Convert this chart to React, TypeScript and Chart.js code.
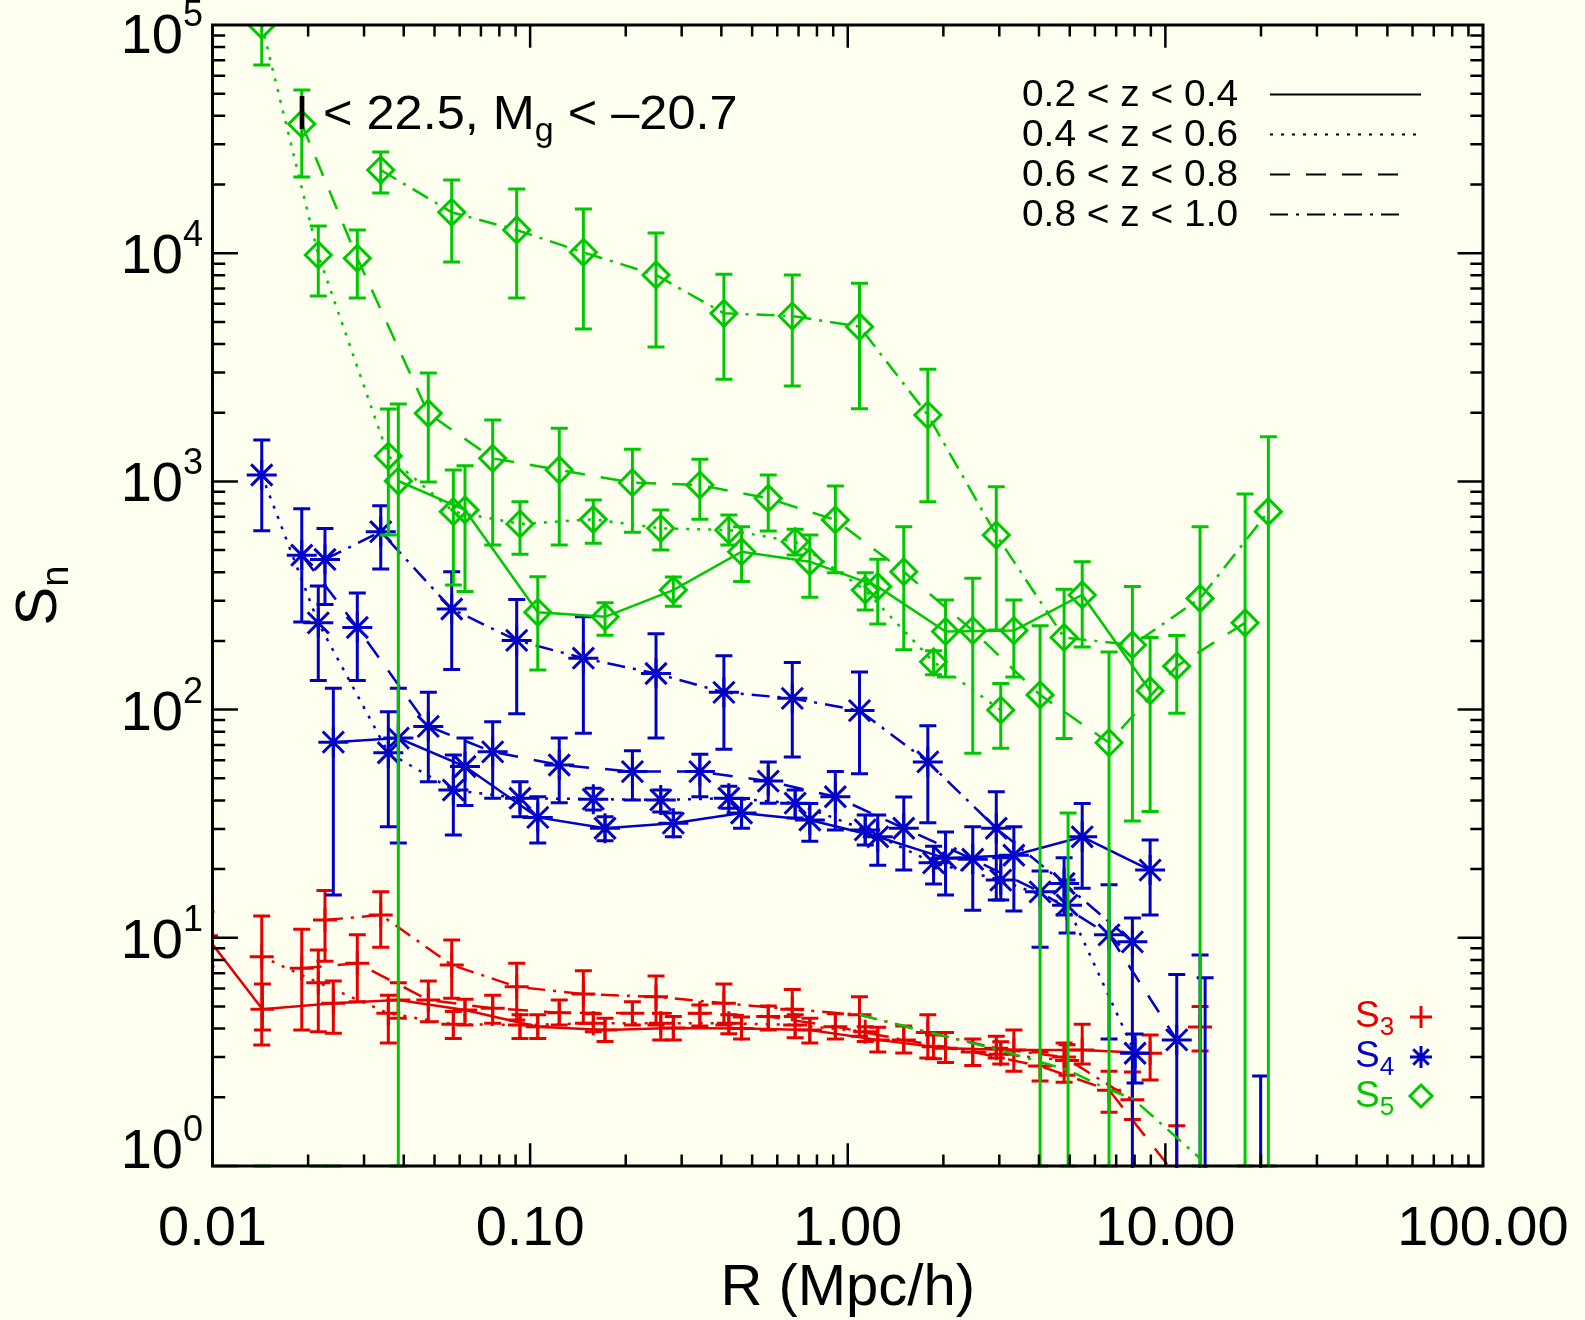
import React, { useEffect, useRef } from 'react';
import { Chart, registerables } from 'chart.js';

Chart.register(...registerables);

// ---------------- data ----------------
// R grids (Mpc/h) for the four redshift bins
const R_Z1 = [0.00954, 0.01436, 0.02401, 0.03846, 0.06237, 0.1057, 0.1721, 0.2824, 0.4631, 0.7596, 1.243, 2.032, 3.334, 5.472, 8.953];
const R_Z2 = [0.01429, 0.02153, 0.03577, 0.05731, 0.09292, 0.1581, 0.2578, 0.4223, 0.683, 1.135, 1.863, 3.032, 4.903, 8.028, 12.86];
const R_Z3 = [0.0191, 0.02857, 0.0478, 0.07623, 0.1235, 0.2099, 0.3423, 0.5619, 0.9141, 1.501, 2.475, 4.032, 6.647, 10.86, 17.82];
const R_Z4 = [0.0226, 0.03386, 0.05664, 0.09073, 0.1471, 0.2491, 0.4074, 0.6689, 1.089, 1.787, 2.935, 4.799, 7.873, 12.86, 21.1];

// S3
const S3_Z1 = [10.2, 4.86, 5.17, 5.34, 4.83, 4.08, 3.94, 4.02, 4.0, 3.94, 3.57, 3.28, 3.22, 3.22, 3.12];
const S3_Z1_HI = [13, 6.27, 6.47, 6.36, 5.38, 4.6, 4.44, 4.52, 4.5, 4.44, 4.06, 3.85, 3.94, 4.18, 3.75];
const S3_Z1_LO = [7.5, 3.94, 3.82, 4.44, 4.15, 3.62, 3.51, 3.57, 3.6, 3.46, 3.16, 2.84, 2.6, 2.8, 2.38];
const S3_Z2 = [8.27, 6.36, 4.67, 4.18, 4.15, 4.22, 4.22, 4.22, 4.15, 3.88, 3.33, 3.09, 2.9, null, 4.07];
const S3_Z2_HI = [12.46, 8.84, 5.6, 4.75, 4.6, 4.65, 4.67, 4.6, 4.6, 4.08, 3.75, 3.5, 3.4, null, 5.0];
const S3_Z2_LO = [3.39, 3.88, 3.46, 3.62, 3.62, 3.88, 3.57, 3.8, 3.65, 3.51, 2.95, 2.8, 2.5, null, 3.19];
const S3_Z3 = [7.35, 7.74, 5.34, 4.91, 4.7, 4.67, 4.67, 4.52, 4.08, 3.57, 3.16, 2.74, 2.15, 0.9, null];
const S3_Z3_HI = [10.9, 10.3, 6.47, 5.6, 5.34, 5.25, 5.08, 5.02, 4.65, 4.11, 3.6, 3.16, 2.6, 1.5, null];
const S3_Z3_LO = [3.94, 5.25, 4.29, 4.22, 4.15, 4.15, 4.11, 3.94, 3.6, 3.13, 2.76, 2.36, 1.72, 0.3, null];
const S3_Z4 = [11.97, 12.59, 7.6, 6.1, 5.67, 5.51, 5.17, 4.86, 4.6, 3.85, 3.28, 3.0, 1.95, null, null];
const S3_Z4_HI = [16.1, 15.9, 9.78, 7.74, 7.18, 6.81, 6.27, 5.94, 5.51, 4.6, 3.7, 3.46, 2.58, null, null];
const S3_Z4_LO = [7.9, 9.1, 5.43, 4.36, 4.22, 4.15, 4.15, 4.52, 3.7, 2.97, 2.97, 2.33, 1.6, null, null];

// S4
const S4_Z1 = [null, null, 72, 75, 56.3, 33.7, 30.2, 31.8, 35.2, 32.8, 27.7, 22.3, 23.0, 27.7, 19.8];
const S4_Z1_HI = [null, null, 124, 124, 75, 41.5, 33.9, 35.2, 40.8, 38.8, 34.5, 29.1, 30.7, 38.8, 26.8];
const S4_Z1_LO = [null, null, 15.4, 26, 38, 26, 26.6, 27.7, 30.2, 26.5, 20.8, 15.4, 13.1, 16.5, 12.6];
const S4_Z2 = [1067, 240, 64.7, 44.4, 40.9, 40.5, 40.2, 40.9, 38.9, 29.7, 21.3, 17.9, 13.9, 3.12, null];
const S4_Z2_HI = [1519, 348, 97.9, 63.3, 48.3, 45.2, 44.4, 46.1, 44.4, 34.5, 25.2, 22.4, 17.9, 3.79, null];
const S4_Z2_LO = [608, 134, 30.7, 28.2, 33.9, 36.3, 35.6, 37.0, 33.5, 25.5, 17.2, 14.65, 10.5, 2.31, null];
const S4_Z3 = [475, 229, 84.4, 65.3, 57.2, 53.5, 53.5, 48.6, 41.5, 30.2, 22.1, 15.9, 10.3, 3.57, null];
const S4_Z3_HI = [758, 324, 119, 88.5, 75, 66, 63.8, 59, 53.5, 41.4, 30.7, 19.6, 17.1, 6.9, null];
const S4_Z3_LO = [242, 134, 48.3, 40.9, 39.1, 40.2, 41.5, 38.9, 29.7, 19.8, 13.2, 9.1, 3.6, 0.3, null];
const S4_Z4 = [455, 602, 276, 201, 168, 144, 119, 112, 99, 59, 30.2, 17.3, 9.6, null, null];
const S4_Z4_HI = [622, 783, 402, 304, 255, 215, 172, 161, 146, 85, 43.7, 22.4, 12.2, null, null];
const S4_Z4_LO = [289, 413, 150, 96, 78.8, 75, 67, 62, 52.3, 31.9, 14.65, 12.6, 0.3, null, null];

// S5
const S5_Z1 = [null, null, null, 1004, 750, 267, 255, 334, 492, 445, 346, 220, 222, 318, 121];
const S5_Z1_HI = [null, null, null, 2184, 1172, 382, 294, 381, 633, 582, 456, 302, 302, 445, 207];
const S5_Z1_LO = [null, null, null, 0, 329, 149, 212, 284, 364, 311, 237, 139, 139, 188, 35.8];
const S5_Z2 = [100000, 9820, 1292, 737, 651, 682, 623, 612, 544, 334, 162, 99.6, null, null, null];
const S5_Z2_HI = [150000, 13160, 2077, 1122, 815, 829, 750, 713, 617, 398, 181, 130, null, null, null];
const S5_Z2_LO = [66800, 6493, 582, 352, 479, 536, 500, 527, 476, 273, 142, 67.7, null, null, null];
const S5_Z3 = [36830, 9499, 1988, 1262, 1122, 987, 964, 843, 678, 402, 222, 116, 71.6, 155, 240];
const S5_Z3_HI = [51900, 12640, 2985, 1858, 1708, 1382, 1250, 1067, 955, 633, 376, 233, 179, 211, 881];
const S5_Z3_LO = [21580, 6364, 994, 527, 527, 598, 682, 606, 398, 183, 64.4, 0, 0, 96.3, 0];
const S5_Z4 = [null, 23150, 15110, 12640, 10090, 8026, 5452, 5306, 4764, 1954, 582, 207, 192, 307, 737];
const S5_Z4_HI = [null, 27770, 20930, 19110, 15620, 12260, 8082, 8026, 7382, 3099, 948, 337, 346, 633, 1570];
const S5_Z4_LO = [null, 18360, 9150, 6364, 4654, 3882, 2802, 2619, 2083, 815, 223, 74.8, 32.5, 0, 0];

// extra low green trace and isolated error bars
const S5_LOW_R = [1.089, 3.016, 4.938, 6.552, 7.912, 12.86];
const S5_LOW = [4.6, 3.22, 2.63, 2.18, 1.97, 1.08];
const S5_ORPHAN_R = [0.01436, 0.0216, 0.024, 4.94];
const S5_ORPHAN_HI = [0, 0, 0, 35.2];
const S5_ORPHAN_LO = [0, 0, 0, 0];
const S4_ORPHAN_R = [12.86, 13.34, 19.95];
const S4_ORPHAN_HI = [8.41, 6.69, 2.48];
const S4_ORPHAN_LO = [0.3, 0.3, 0.3];

// axes / labels
const X_TICK_VALUES = [0.01, 0.1, 1, 10, 100];
const X_TICK_LABELS = ['0.01', '0.10', '1.00', '10.00', '100.00'];
const Y_TICK_EXPONENTS = [0, 1, 2, 3, 4, 5];
const LEGEND_LABELS = ['0.2 < z < 0.4', '0.4 < z < 0.6', '0.6 < z < 0.8', '0.8 < z < 1.0'];
const X_TITLE = 'R (Mpc/h)';
const ANNOT_A = 'I < 22.5, M';
const ANNOT_SUB = 'g';
const ANNOT_B = ' < \u201320.7';

// ---------------- styles ----------------
const RED = '#E60000';
const BLUE = '#0000C8';
const GREEN = '#00C800';
const BG = '#FFFFF0';
const FONT = '"Liberation Sans", Arial, Helvetica, sans-serif';
const DASHES: number[][] = [[], [3, 8], [20, 16], [18, 8, 3, 8]];
const LINE_W = 2.5;
const ERR_W = 3;
const CAP = 8.5;

function series(R: number[], Y: (number | null)[], HI: (number | null)[], LO: (number | null)[], color: string, zbin: number, style: string, radius: number) {
  return {
    data: R.map((r, i) => ({ x: r, y: Y[i] })),
    showLine: true,
    spanGaps: false,
    borderColor: color,
    borderWidth: LINE_W,
    borderDash: DASHES[zbin],
    pointStyle: style,
    pointRadius: radius,
    pointBorderWidth: 3,
    pointBorderColor: color,
    pointBackgroundColor: 'rgba(0,0,0,0)',
    errHi: HI,
    errLo: LO,
    clip: 0,
  };
}

function orphans(R: number[], HI: number[], LO: number[], color: string) {
  return {
    data: R.map((r) => ({ x: r, y: 0.5 })),
    showLine: false,
    borderColor: color,
    pointRadius: 0,
    errHi: HI,
    errLo: LO,
    clip: 0,
  };
}

const errorBarPlugin = {
  id: 'errorBars',
  afterDatasetDraw(chart: any, args: any) {
    const ds: any = chart.data.datasets[args.index];
    if (!ds.errHi) return;
    const { ctx, chartArea: a } = chart;
    const xs = chart.scales.x;
    const ys = chart.scales.y;
    ctx.save();
    ctx.beginPath();
    ctx.rect(a.left, a.top, a.right - a.left, a.bottom - a.top + 2);
    ctx.clip();
    ctx.strokeStyle = ds.borderColor;
    ctx.lineWidth = ERR_W;
    ctx.setLineDash([]);
    ds.data.forEach((p: any, i: number) => {
      const hi = ds.errHi[i];
      const lo = ds.errLo[i];
      if (hi == null || lo == null) return;
      const px = xs.getPixelForValue(p.x);
      const yHi = hi > 0 ? ys.getPixelForValue(hi) : a.bottom;
      const yLo = lo > 0 ? ys.getPixelForValue(lo) : a.bottom;
      ctx.beginPath();
      ctx.moveTo(px, yHi);
      ctx.lineTo(px, yLo);
      if (yHi >= a.top - 0.5 && yHi <= a.bottom + 0.5) {
        ctx.moveTo(px - CAP, yHi);
        ctx.lineTo(px + CAP, yHi);
      }
      if (lo <= 0 || (yLo >= a.top - 0.5 && yLo <= a.bottom + 0.5)) {
        ctx.moveTo(px - CAP, yLo);
        ctx.lineTo(px + CAP, yLo);
      }
      ctx.stroke();
    });
    ctx.restore();
  },
};

function stretchText(ctx: CanvasRenderingContext2D, text: string, x: number, y: number, sx: number) {
  ctx.save();
  ctx.translate(x, y);
  ctx.scale(sx, 1);
  ctx.fillText(text, 0, 0);
  ctx.restore();
  return ctx.measureText(text).width * sx;
}

const bgPlugin = {
  id: 'bg',
  beforeDraw(chart: any) {
    const { ctx, width, height } = chart;
    ctx.save();
    ctx.fillStyle = BG;
    ctx.fillRect(0, 0, width, height);
    ctx.restore();
  },
};

const decorPlugin = {
  id: 'decor',
  afterDraw(chart: any) {
    const { ctx, chartArea: a } = chart;
    const xs = chart.scales.x;
    const ys = chart.scales.y;
    const W = a.right - a.left;
    const H = a.bottom - a.top;
    ctx.save();
    ctx.strokeStyle = '#000';
    ctx.fillStyle = '#000';
    ctx.setLineDash([]);
    ctx.lineCap = 'butt';

    // ticks
    ctx.lineWidth = 2.5;
    ctx.beginPath();
    const xMaj = 0.02 * H;
    for (let e = -2; e < 2; e++) {
      for (let m = 1; m <= 9; m++) {
        const px = xs.getPixelForValue(m * Math.pow(10, e));
        const len = m === 1 ? xMaj : xMaj / 2;
        ctx.moveTo(px, a.bottom);
        ctx.lineTo(px, a.bottom - len);
        ctx.moveTo(px, a.top);
        ctx.lineTo(px, a.top + len);
      }
    }
    const yMaj = 0.02 * W;
    for (let e = 0; e < 5; e++) {
      for (let m = 1; m <= 9; m++) {
        const py = ys.getPixelForValue(m * Math.pow(10, e));
        const len = m === 1 ? yMaj : yMaj / 2;
        ctx.moveTo(a.left, py);
        ctx.lineTo(a.left + len, py);
        ctx.moveTo(a.right, py);
        ctx.lineTo(a.right - len, py);
      }
    }
    ctx.stroke();
    ctx.lineWidth = 3;
    ctx.strokeRect(a.left, a.top, W, H);

    // x tick labels
    ctx.textBaseline = 'alphabetic';
    ctx.textAlign = 'center';
    ctx.font = `56px ${FONT}`;
    X_TICK_VALUES.forEach((v, i) => {
      ctx.fillText(X_TICK_LABELS[i], xs.getPixelForValue(v), 1245);
    });

    // y tick labels
    ctx.textAlign = 'left';
    Y_TICK_EXPONENTS.forEach((k) => {
      const py = ys.getPixelForValue(Math.pow(10, k));
      ctx.font = `56px ${FONT}`;
      const wb = ctx.measureText('10').width;
      ctx.font = `36px ${FONT}`;
      const ws = ctx.measureText(String(k)).width;
      const right = 203;
      const base = py + (k === 5 ? 28 : k === 0 ? 2 : 20);
      ctx.font = `56px ${FONT}`;
      ctx.fillText('10', right - ws - wb, base);
      ctx.font = `36px ${FONT}`;
      ctx.fillText(String(k), right - ws, base - 27);
    });

    // axis titles
    ctx.textAlign = 'center';
    ctx.font = `58px ${FONT}`;
    ctx.fillText(X_TITLE, (a.left + a.right) / 2, 1305);

    ctx.save();
    ctx.translate(56, (a.top + a.bottom) / 2);
    ctx.rotate(-Math.PI / 2);
    ctx.textAlign = 'left';
    ctx.font = `58px ${FONT}`;
    const wS = ctx.measureText('S').width;
    ctx.font = `38px ${FONT}`;
    const wN = ctx.measureText('n').width;
    const x0 = -(wS + wN) / 2;
    ctx.font = `58px ${FONT}`;
    ctx.fillText('S', x0, 0);
    ctx.font = `38px ${FONT}`;
    ctx.fillText('n', x0 + wS, 12);
    ctx.restore();

    // annotation
    ctx.textAlign = 'left';
    ctx.font = `49px ${FONT}`;
    let ax = 295;
    ax += stretchText(ctx, ANNOT_A, ax, 129, 1.03);
    ctx.font = `33px ${FONT}`;
    ax += stretchText(ctx, ANNOT_SUB, ax, 141, 1.03);
    ctx.font = `49px ${FONT}`;
    stretchText(ctx, ANNOT_B, ax, 129, 1.03);

    // redshift legend
    const lineEnds = [1421, 1421, 1402, 1407];
    LEGEND_LABELS.forEach((lab, i) => {
      const base = 106 + 40 * i;
      ctx.font = `36px ${FONT}`;
      ctx.fillStyle = '#000';
      stretchText(ctx, lab, 1022, base, 1.08);
      ctx.beginPath();
      ctx.lineWidth = 2;
      ctx.setLineDash(DASHES[i]);
      ctx.moveTo(1270, base - 11.5);
      ctx.lineTo(lineEnds[i], base - 11.5);
      ctx.stroke();
    });
    ctx.setLineDash([]);

    // statistic legend
    const rows = [
      { c: RED, sub: '3', base: 1027, my: 1017 },
      { c: BLUE, sub: '4', base: 1067, my: 1057 },
      { c: GREEN, sub: '5', base: 1107, my: 1096 },
    ];
    rows.forEach((r, i) => {
      ctx.fillStyle = r.c;
      ctx.strokeStyle = r.c;
      ctx.font = `37px ${FONT}`;
      ctx.fillText('S', 1355, r.base);
      const w = ctx.measureText('S').width;
      ctx.font = `26px ${FONT}`;
      ctx.fillText(r.sub, 1355 + w, r.base + 8);
      const mx = 1421;
      const my = r.my;
      const rr = 11;
      ctx.lineWidth = 3;
      ctx.beginPath();
      if (i === 0) {
        ctx.moveTo(mx - rr, my); ctx.lineTo(mx + rr, my);
        ctx.moveTo(mx, my - rr); ctx.lineTo(mx, my + rr);
      } else if (i === 1) {
        ctx.moveTo(mx - rr, my); ctx.lineTo(mx + rr, my);
        ctx.moveTo(mx, my - rr); ctx.lineTo(mx, my + rr);
        const d = rr * Math.SQRT1_2;
        ctx.moveTo(mx - d, my - d); ctx.lineTo(mx + d, my + d);
        ctx.moveTo(mx - d, my + d); ctx.lineTo(mx + d, my - d);
      } else {
        ctx.moveTo(mx - rr, my); ctx.lineTo(mx, my - rr);
        ctx.lineTo(mx + rr, my); ctx.lineTo(mx, my + rr);
        ctx.closePath();
      }
      ctx.stroke();
    });
    ctx.restore();
  },
};

export default function App() {
  const ref = useRef<HTMLCanvasElement>(null);
  useEffect(() => {
    document.body.style.margin = '0';
    const datasets: any[] = [
      // S5 (green) on top
      orphans(S5_ORPHAN_R, S5_ORPHAN_HI, S5_ORPHAN_LO, GREEN),
      {
        data: S5_LOW_R.map((r, i) => ({ x: r, y: S5_LOW[i] })),
        showLine: true, borderColor: GREEN, borderWidth: LINE_W, borderDash: DASHES[3], pointRadius: 0, clip: 0,
      },
      series(R_Z1, S5_Z1, S5_Z1_HI, S5_Z1_LO, GREEN, 0, 'rectRot', 13),
      series(R_Z2, S5_Z2, S5_Z2_HI, S5_Z2_LO, GREEN, 1, 'rectRot', 13),
      series(R_Z3, S5_Z3, S5_Z3_HI, S5_Z3_LO, GREEN, 2, 'rectRot', 13),
      series(R_Z4, S5_Z4, S5_Z4_HI, S5_Z4_LO, GREEN, 3, 'rectRot', 13),
      // S4 (blue)
      orphans(S4_ORPHAN_R, S4_ORPHAN_HI, S4_ORPHAN_LO, BLUE),
      series(R_Z1, S4_Z1, S4_Z1_HI, S4_Z1_LO, BLUE, 0, 'star', 15),
      series(R_Z2, S4_Z2, S4_Z2_HI, S4_Z2_LO, BLUE, 1, 'star', 15),
      series(R_Z3, S4_Z3, S4_Z3_HI, S4_Z3_LO, BLUE, 2, 'star', 15),
      series(R_Z4, S4_Z4, S4_Z4_HI, S4_Z4_LO, BLUE, 3, 'star', 15),
      // S3 (red)
      series(R_Z1, S3_Z1, S3_Z1_HI, S3_Z1_LO, RED, 0, 'cross', 12),
      series(R_Z2, S3_Z2, S3_Z2_HI, S3_Z2_LO, RED, 1, 'cross', 12),
      series(R_Z3, S3_Z3, S3_Z3_HI, S3_Z3_LO, RED, 2, 'cross', 12),
      series(R_Z4, S3_Z4, S3_Z4_HI, S3_Z4_LO, RED, 3, 'cross', 12),
    ];
    const chart = new Chart(ref.current as HTMLCanvasElement, {
      type: 'scatter',
      data: { datasets },
      options: {
        responsive: false,
        animation: false,
        devicePixelRatio: 1,
        events: [],
        layout: { padding: { left: 212.5, top: 25, right: 102, bottom: 154 } },
        scales: {
          x: { type: 'logarithmic', min: 0.01, max: 100, display: false },
          y: { type: 'logarithmic', min: 1, max: 100000, display: false },
        },
        elements: { line: { tension: 0 } },
        plugins: { legend: { display: false }, tooltip: { enabled: false } },
      } as any,
      plugins: [bgPlugin, errorBarPlugin, decorPlugin],
    });
    return () => chart.destroy();
  }, []);
  return (
    <div style={{ position: 'absolute', left: 0, top: 0, width: 1585, height: 1320, background: BG }}>
      <canvas ref={ref} width={1585} height={1320} style={{ display: 'block' }} />
    </div>
  );
}
